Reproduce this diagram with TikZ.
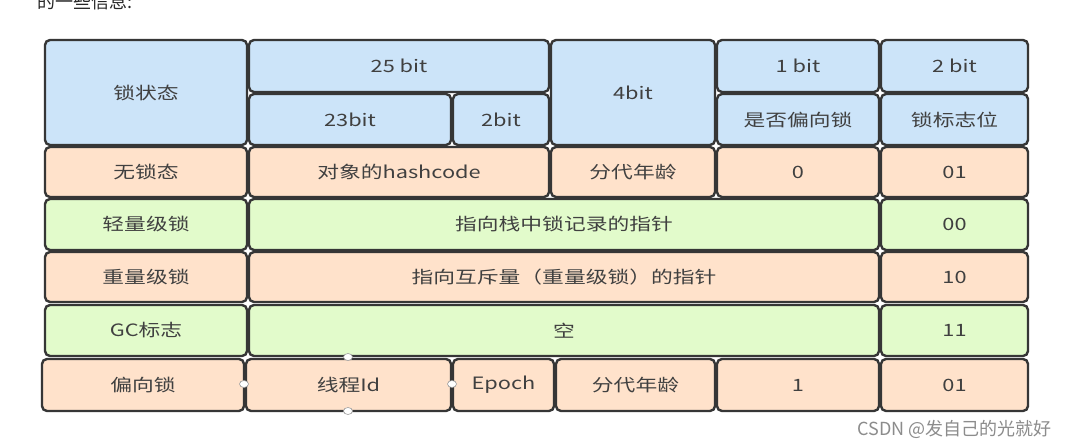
\documentclass[tikz,border=0pt]{standalone}
\usepackage{fontspec}
\setmainfont{Noto Sans CJK SC}[FakeStretch=1.28]
\newfontfamily\plainfont{Noto Sans CJK SC}
\newfontfamily\wmfont{Noto Sans CJK SC}
\usetikzlibrary{shapes.geometric}
\definecolor{linec}{HTML}{363636}
\definecolor{textc}{HTML}{404040}
\definecolor{bluec}{HTML}{CCE4F9}
\definecolor{peachc}{HTML}{FFE2CB}
\definecolor{greenc}{HTML}{E2FBCB}
\tikzset{
  cell/.style={draw=linec, line width=2.4pt, rounded corners=5pt, inner sep=0pt, outer sep=0pt,
    anchor=north west, text=textc, font=\fontsize{17}{20}\selectfont},
  hd/.style={cell, fill=bluec},
  pe/.style={cell, fill=peachc},
  gr/.style={cell, fill=greenc},
  handle/.style={ellipse, draw=gray!80, fill=white, line width=0.6pt, inner sep=0pt,
    minimum width=9pt, minimum height=7pt},
}
\newcommand{\mkcell}[7]{\node[#6, minimum width={(#4-#2)*1pt}, minimum height={(#5-#3)*1pt}] (#1) at (#2,#3) {#7};}
\begin{document}
\begin{tikzpicture}[x=1pt, y=-1pt]
\useasboundingbox[fill=white] (0,0) rectangle (1067,446);
% partially visible text at top
\node[anchor=base west, inner sep=0pt, text=black!85, font=\plainfont\fontsize{18}{20}\selectfont] (toptext) at (37,9) {的一些信息:};
% header
\mkcell{hA}{45}{40}{247}{145}{hd}{锁状态}
\mkcell{hB}{249}{40}{549}{92}{hd}{25 bit}
\mkcell{hC}{249}{94}{451}{145}{hd}{23bit}
\mkcell{hD}{453}{94}{549}{145}{hd}{2bit}
\mkcell{hE}{551}{40}{715}{145}{hd}{4bit}
\mkcell{hF}{717}{40}{879}{92}{hd}{1 bit}
\mkcell{hG}{717}{94}{879}{145}{hd}{是否偏向锁}
\mkcell{hH}{881}{40}{1028}{92}{hd}{2 bit}
\mkcell{hI}{881}{94}{1028}{145}{hd}{锁标志位}
% row 1
\mkcell{r1a}{45}{147}{247}{197}{pe}{无锁态}
\mkcell{r1b}{249}{147}{549}{197}{pe}{对象的hashcode}
\mkcell{r1c}{551}{147}{715}{197}{pe}{分代年龄}
\mkcell{r1d}{717}{147}{879}{197}{pe}{0}
\mkcell{r1e}{881}{147}{1028}{197}{pe}{01}
% row 2
\mkcell{r2a}{45}{199}{247}{250}{gr}{轻量级锁}
\mkcell{r2b}{249}{199}{879}{250}{gr}{指向栈中锁记录的指针}
\mkcell{r2e}{881}{199}{1028}{250}{gr}{00}
% row 3
\mkcell{r3a}{45}{252}{247}{302}{pe}{重量级锁}
\mkcell{r3b}{249}{252}{879}{302}{pe}{指向互斥量（重量级锁）的指针}
\mkcell{r3e}{881}{252}{1028}{302}{pe}{10}
% row 4
\mkcell{r4a}{45}{305}{247}{356}{gr}{GC标志}
\mkcell{r4b}{249}{305}{879}{356}{gr}{空}
\mkcell{r4e}{881}{305}{1028}{356}{gr}{11}
% row 5
\mkcell{r5a}{42}{359}{244}{411}{pe}{偏向锁}
\mkcell{r5b}{246}{359}{451}{411}{pe}{线程Id}
\mkcell{r5c}{453}{359}{554}{411}{pe}{Epoch}
\mkcell{r5d}{556}{359}{715}{411}{pe}{分代年龄}
\mkcell{r5e}{717}{359}{879}{411}{pe}{1}
\mkcell{r5f}{881}{359}{1028}{411}{pe}{01}
% selection handles
\node[handle] (h1) at (348,357) {};
\node[handle] (h2) at (244,384) {};
\node[handle] (h3) at (452,384) {};
\node[handle] (h4) at (348,411) {};
% watermark
\node[anchor=base east, inner sep=0pt, text=black!45, font=\wmfont\fontsize{18}{20}\selectfont] (wm) at (1052,435) {CSDN @发自己的光就好};
\end{tikzpicture}
\end{document}
